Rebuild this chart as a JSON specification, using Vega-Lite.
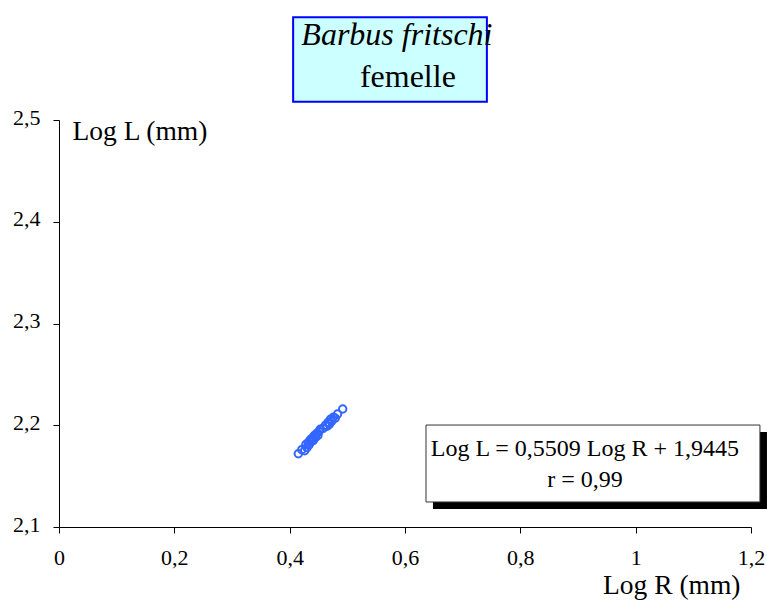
{
  "$schema": "https://vega.github.io/schema/vega-lite/v6.json",
  "width": 692,
  "height": 407,
  "autosize": {"type": "none"},
  "padding": {"left": 59, "top": 120, "right": 16, "bottom": 76},
  "background": "white",
  "config": {
    "view": {"stroke": null},
    "font": "Liberation Serif"
  },
  "datasets": {
    "points": [
      {"logR": 0.415, "logL": 2.172},
      {"logR": 0.421, "logL": 2.176},
      {"logR": 0.426, "logL": 2.175},
      {"logR": 0.428, "logL": 2.181},
      {"logR": 0.430, "logL": 2.178},
      {"logR": 0.432, "logL": 2.183},
      {"logR": 0.434, "logL": 2.181},
      {"logR": 0.436, "logL": 2.186},
      {"logR": 0.438, "logL": 2.184},
      {"logR": 0.440, "logL": 2.188},
      {"logR": 0.441, "logL": 2.185},
      {"logR": 0.443, "logL": 2.190},
      {"logR": 0.445, "logL": 2.188},
      {"logR": 0.447, "logL": 2.192},
      {"logR": 0.449, "logL": 2.190},
      {"logR": 0.451, "logL": 2.194},
      {"logR": 0.453, "logL": 2.196},
      {"logR": 0.458, "logL": 2.197},
      {"logR": 0.462, "logL": 2.200},
      {"logR": 0.465, "logL": 2.199},
      {"logR": 0.467, "logL": 2.203},
      {"logR": 0.469, "logL": 2.201},
      {"logR": 0.471, "logL": 2.206},
      {"logR": 0.473, "logL": 2.204},
      {"logR": 0.476, "logL": 2.208},
      {"logR": 0.479, "logL": 2.207},
      {"logR": 0.483, "logL": 2.211},
      {"logR": 0.492, "logL": 2.216}
    ]
  },
  "layer": [
    {
      "data": {"values": [{"x": 0.406, "x2": 0.742, "y": 2.601, "y2": 2.518}]},
      "mark": {"type": "rect", "fill": "#ccffff", "stroke": "#0000ff", "strokeWidth": 2},
      "encoding": {
        "x": {"field": "x", "type": "quantitative"},
        "x2": {"field": "x2"},
        "y": {"field": "y", "type": "quantitative"},
        "y2": {"field": "y2"}
      }
    },
    {
      "data": {"values": [{"x": 0.586, "y": 2.5835, "label": "Barbus fritschi"}]},
      "mark": {"type": "text", "font": "Liberation Serif", "fontSize": 32, "fontStyle": "italic", "color": "black", "align": "center", "baseline": "middle"},
      "encoding": {
        "x": {"field": "x", "type": "quantitative"},
        "y": {"field": "y", "type": "quantitative"},
        "text": {"field": "label"}
      }
    },
    {
      "data": {"values": [{"x": 0.605, "y": 2.542, "label": "femelle"}]},
      "mark": {"type": "text", "font": "Liberation Serif", "fontSize": 32, "color": "black", "align": "center", "baseline": "middle"},
      "encoding": {
        "x": {"field": "x", "type": "quantitative"},
        "y": {"field": "y", "type": "quantitative"},
        "text": {"field": "label"}
      }
    },
    {
      "data": {"values": [{"x": 0.6485, "x2": 1.2277, "y": 2.1933, "y2": 2.1177}]},
      "mark": {"type": "rect", "fill": "black"},
      "encoding": {
        "x": {"field": "x", "type": "quantitative"},
        "x2": {"field": "x2"},
        "y": {"field": "y", "type": "quantitative"},
        "y2": {"field": "y2"}
      }
    },
    {
      "data": {"values": [{"x": 0.6364, "x2": 1.2155, "y": 2.2002, "y2": 2.1246}]},
      "mark": {"type": "rect", "fill": "white", "stroke": "#333333", "strokeWidth": 1},
      "encoding": {
        "x": {"field": "x", "type": "quantitative"},
        "x2": {"field": "x2"},
        "y": {"field": "y", "type": "quantitative"},
        "y2": {"field": "y2"}
      }
    },
    {
      "data": {"values": [
        {"x": 0.912, "y": 2.1767, "label": "Log L = 0,5509 Log R + 1,9445"},
        {"x": 0.912, "y": 2.1462, "label": "r = 0,99"}
      ]},
      "mark": {"type": "text", "font": "Liberation Serif", "fontSize": 24, "color": "black", "align": "center", "baseline": "middle"},
      "encoding": {
        "x": {"field": "x", "type": "quantitative"},
        "y": {"field": "y", "type": "quantitative"},
        "text": {"field": "label"}
      }
    },
    {
      "data": {"name": "points"},
      "mark": {"type": "point", "shape": "circle", "filled": false, "stroke": "#3366ff", "strokeWidth": 2, "size": 55, "opacity": 1},
      "encoding": {
        "x": {
          "field": "logR", "type": "quantitative",
          "scale": {"domain": [0, 1.2], "nice": false, "zero": false},
          "axis": {
            "values": [0, 0.2, 0.4, 0.6, 0.8, 1, 1.2],
            "labelExpr": "replace(format(datum.value, '~g'), '.', ',')",
            "grid": false,
            "domainColor": "black",
            "tickColor": "black",
            "tickSize": 6,
            "labelPadding": 14,
            "labelFont": "Liberation Serif",
            "labelFontSize": 22,
            "labelColor": "black",
            "labelFlush": false,
            "title": "Log R (mm)",
            "titleFont": "Liberation Serif",
            "titleFontSize": 27.5,
            "titleFontWeight": "normal",
            "titleColor": "black",
            "titleAnchor": null,
            "titleAlign": "right",
            "titleBaseline": "middle",
            "titleX": 681,
            "titleY": 58
          }
        },
        "y": {
          "field": "logL", "type": "quantitative",
          "scale": {"domain": [2.1, 2.5], "nice": false, "zero": false},
          "axis": {
            "values": [2.1, 2.2, 2.3, 2.4, 2.5],
            "labelExpr": "replace(format(datum.value, '~g'), '.', ',')",
            "grid": false,
            "domainColor": "black",
            "tickColor": "black",
            "tickSize": 6,
            "labelPadding": 13,
            "labelFont": "Liberation Serif",
            "labelFontSize": 22,
            "labelColor": "black",
            "labelFlush": false,
            "labelBaseline": "middle",
            "labelOffset": -3,
            "title": "Log L (mm)",
            "titleFont": "Liberation Serif",
            "titleFontSize": 27.5,
            "titleFontWeight": "normal",
            "titleColor": "black",
            "titleAngle": 0,
            "titleAnchor": null,
            "titleAlign": "left",
            "titleBaseline": "middle",
            "titleX": 13,
            "titleY": 11
          }
        }
      }
    }
  ]
}
